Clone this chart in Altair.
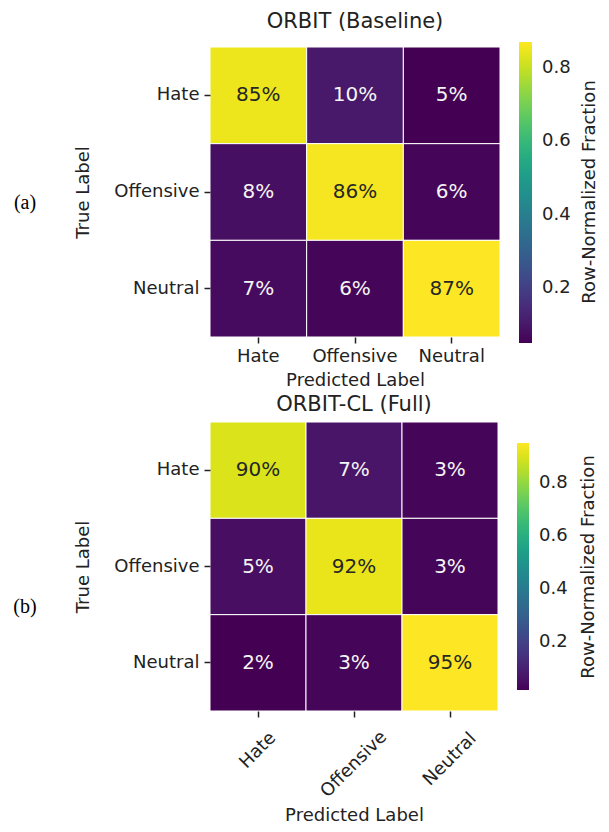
import altair as alt
import pandas as pd

categories = ["Hate", "Offensive", "Neutral"]
baseline_vals = [
    [0.85, 0.10, 0.05],
    [0.08, 0.86, 0.06],
    [0.07, 0.06, 0.87],
]
full_vals = [
    [0.90, 0.07, 0.03],
    [0.05, 0.92, 0.03],
    [0.02, 0.03, 0.95],
]
legend_ticks = [0.2, 0.4, 0.6, 0.8]
titles = ["ORBIT (Baseline)", "ORBIT-CL (Full)"]
tags = ["(a)", "(b)"]
legend_title = "Row-Normalized Fraction"

FONT = "DejaVu Sans"
INK = "#222222"


def make_df(vals):
    rows = []
    for i, t in enumerate(categories):
        for j, p in enumerate(categories):
            rows.append({"true": t, "pred": p, "value": vals[i][j]})
    return pd.DataFrame(rows)


def panel(vals, title, title_offset, rotate, w, h, lx, ly, llen, lthick,
          tag, tx, ty, ltx, lty, x_title_pad):
    df = make_df(vals)
    flat = [v for r in vals for v in r]
    dom = [min(flat), max(flat)]
    if rotate:
        xaxis = alt.Axis(
            labelAngle=315, labelAlign="center", labelBaseline="middle",
            labelPadding={"condition": [
                {"test": "datum.label == 'Hate'", "value": 33},
                {"test": "datum.label == 'Offensive'", "value": 47}],
                "value": 42},
            domain=False, tickSize=6, tickColor=INK, tickWidth=1.5,
            labelFontSize=18, titleFontSize=18, labelFont=FONT,
            titleFont=FONT, titleFontWeight="normal",
            labelColor=INK, titleColor=INK, titlePadding=x_title_pad)
    else:
        xaxis = alt.Axis(
            labelAngle=0, domain=False, tickSize=6,
            tickColor=INK, tickWidth=1.5, labelPadding=4,
            labelFontSize=18, titleFontSize=18, labelFont=FONT,
            titleFont=FONT, titleFontWeight="normal",
            labelColor=INK, titleColor=INK, titlePadding=x_title_pad)
    x = alt.X("pred:N", sort=categories, title="Predicted Label", axis=xaxis)
    y = alt.Y(
        "true:N", sort=categories, title="True Label",
        axis=alt.Axis(labelAngle=0, domain=False, tickSize=6, tickColor=INK,
                      tickWidth=1.5, labelPadding=5, labelFontSize=18,
                      titleFontSize=18, labelFont=FONT, titleFont=FONT,
                      titleFontWeight="normal", labelColor=INK,
                      titleColor=INK, titlePadding=21),
    )
    base = alt.Chart(df)
    rect = base.mark_rect(stroke="white", strokeWidth=1).encode(
        x=x, y=y,
        color=alt.Color(
            "value:Q",
            scale=alt.Scale(scheme="viridis", domain=dom),
            legend=alt.Legend(
                orient="none", legendX=lx, legendY=ly, direction="vertical",
                gradientLength=llen, gradientThickness=lthick,
                gradientStrokeWidth=0, values=legend_ticks, format=".1f",
                labelFontSize=18, labelFont=FONT, labelColor=INK,
                labelOffset=10, title=None,
            ),
        ),
    )
    text = base.mark_text(font=FONT, fontSize=20).encode(
        x=alt.X("pred:N", sort=categories),
        y=alt.Y("true:N", sort=categories),
        text=alt.Text("value:Q", format=".0%"),
        color=alt.condition(alt.datum.value > 0.5, alt.value("#262626"), alt.value("#f5f5f5")),
    )
    tag_layer = alt.Chart(pd.DataFrame({"tag": [tag]})).mark_text(
        font="Liberation Serif", fontSize=20, align="center", baseline="middle", color="black"
    ).encode(x=alt.value(tx), y=alt.value(ty), text="tag:N")
    ltitle_layer = alt.Chart(pd.DataFrame({"t": [legend_title]})).mark_text(
        font=FONT, fontSize=18, align="center", baseline="middle", color=INK, angle=270
    ).encode(x=alt.value(ltx), y=alt.value(lty), text="t:N")
    return alt.layer(rect, text, tag_layer, ltitle_layer).properties(
        width=w, height=h,
        title=alt.TitleParams(title, fontSize=21, font=FONT, fontWeight="normal",
                              color=INK, anchor="middle", frame="group",
                              offset=title_offset),
    )


top = panel(baseline_vals, titles[0], 10, False, 290, 290, 309, -5, 301, 13,
            tags[0], -185, 156, 380, 145, 6)
bottom = panel(full_vals, titles[1], 7, True, 288, 289, 307, 21, 247, 12,
               tags[1], -185, 185, 379, 145, 6)

chart = alt.vconcat(top, bottom, spacing=4).resolve_scale(
    color="independent", x="independent", y="independent"
).properties(
    padding={"left": 5, "top": 3, "right": 0, "bottom": 0}
).configure_view(stroke=None)

chart.save("out.html", embed_options={"renderer": "svg", "actions": False})
